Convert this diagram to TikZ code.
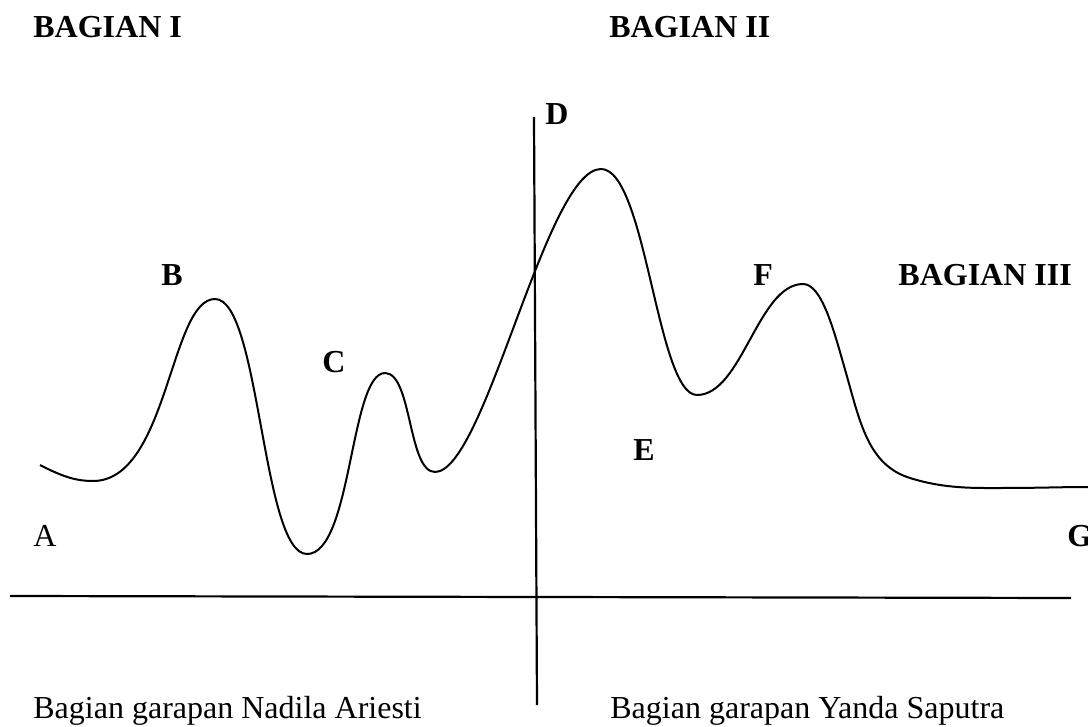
\documentclass[tikz,border=0pt]{standalone}
\usepackage{fontspec}
\setmainfont{Liberation Serif}
\usepackage{tikz}
\usetikzlibrary{positioning}

\tikzset{
  partlabel/.style={anchor=base west, inner sep=0pt, font=\fontsize{16}{19}\selectfont\bfseries},
  plainlabel/.style={anchor=base west, inner sep=0pt, font=\fontsize{16}{19}\selectfont},
  axisline/.style={line width=1.1pt},
  wave/.style={line width=1pt, line join=round}
}

\begin{document}
\begin{tikzpicture}[x=0.5pt, y=-0.5pt]
  \useasboundingbox (0,0) rectangle (1088,727);

  % Section headings
  \node[partlabel] (bag1) at (33,38) {BAGIAN I};
  \node[partlabel] (bag2) at (609,38) {BAGIAN II};
  \node[partlabel] (bag3) at (898,286) {BAGIAN III};

  % Axes
  \coordinate (hL) at (10,596);
  \coordinate (hR) at (1071,598);
  \coordinate (vT) at (534,117);
  \coordinate (vB) at (537,705);
  \draw[axisline] (hL) -- (hR);
  \draw[axisline] (vT) -- (vB);

  % The wave
  \draw[wave] (40,465)
    .. controls (65,478) and (78,481) .. (93,481)
    .. controls (168,481) and (170,299) .. (215,299)
    .. controls (260,299) and (262,554) .. (307,554)
    .. controls (352,554) and (350,373) .. (385,373)
    .. controls (412,373) and (408,472) .. (435,472)
    .. controls (485,472) and (546,169) .. (601,169)
    .. controls (646,169) and (657,395) .. (697,395)
    .. controls (742,395) and (758,284) .. (803,284)
    .. controls (822,284) and (834,331) .. (846,373)
    .. controls (860,422) and (868,465) .. (910,478)
    .. controls (945,489) and (975,488) .. (1002,488)
    .. controls (1040,488) and (1060,487) .. (1088,487);

  % Point labels
  \node[plainlabel] (ptA) at (33,546) {A};
  \node[partlabel] (ptB) at (161,286) {B};
  \node[partlabel] (ptC) at (322,373) {C};
  \node[partlabel] (ptD) at (545,125) {D};
  \node[partlabel] (ptE) at (633,460) {E};
  \node[partlabel] (ptF) at (753,286) {F};
  \node[partlabel] (ptG) at (1067,546) {G};

  % Credits
  \node[plainlabel] (left) at (33,718) {Bagian garapan Nadila Ariesti};
  \node[plainlabel] (right) at (610,718) {Bagian garapan Yanda Saputra};
\end{tikzpicture}
\end{document}
